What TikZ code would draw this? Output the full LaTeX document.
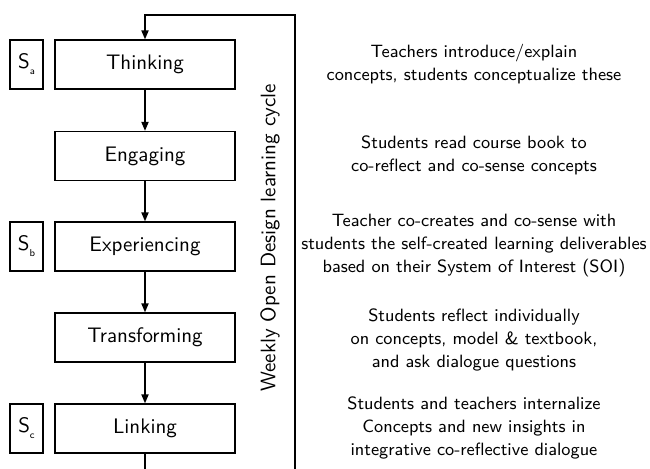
\documentclass[tikz,border=0pt]{standalone}
\usetikzlibrary{arrows.meta}
\begin{document}
\begin{tikzpicture}[x=0.5pt,y=-0.5pt,font=\sffamily,
  stage/.style={draw,line width=0.7pt,minimum width=90pt,minimum height=24.5pt,inner sep=0pt,font=\sffamily\fontsize{10.5}{12}\selectfont},
  sbox/.style={draw,line width=0.7pt,minimum width=16.5pt,minimum height=24.5pt,inner sep=0pt,font=\sffamily\fontsize{10.5}{12}\selectfont},
  desc/.style={align=center,font=\sffamily\fontsize{8.9}{11.5}\selectfont},
  flow/.style={line width=0.7pt,-{Triangle[length=4.5pt,width=3.6pt]}},
  plain/.style={line width=0.7pt}]
\useasboundingbox (0,0) rectangle (650,468);
\node[stage] (think) at (145,64.5) {Thinking};
\node[stage] (eng) at (145,156) {Engaging};
\node[stage] (exp) at (145,246.5) {Experiencing};
\node[stage] (trans) at (145,337.5) {Transforming};
\node[stage] (link) at (145,428.5) {Linking};
\node[sbox] (sa) at (26.5,64.5) {S\raisebox{-3pt}{\tiny a}};
\node[sbox] (sb) at (26.5,246.5) {S\raisebox{-3pt}{\tiny b}};
\node[sbox] (sc) at (26.5,428.5) {S\raisebox{-3pt}{\tiny c}};
\coordinate (top) at (145,15);
\coordinate (tr) at (295,15);
\coordinate (br) at (295,470);
\coordinate (bot) at (145,470);
\draw[flow] (think) -- (eng);
\draw[flow] (eng) -- (exp);
\draw[flow] (exp) -- (trans);
\draw[flow] (trans) -- (link);
\draw[plain] (link) -- (bot);
\draw[flow] (br) -- (tr) -- (top) -- (think);
\node[rotate=90,font=\sffamily\fontsize{10.5}{12}\selectfont] (cyc) at (270,238) {Weekly Open Design learning cycle};
\node[desc] (d1) at (474,64) {Teachers introduce/explain\\concepts, students conceptualize these};
\node[desc] (d2) at (474,155) {Students read course book to\\co-reflect and co-sense concepts};
\node[desc] (d3) at (474,246) {Teacher co-creates and co-sense with\\students the self-created learning deliverables\\based on their System of Interest (SOI)};
\node[desc] (d4) at (474,340) {Students reflect individually\\on concepts, model \& textbook,\\and ask dialogue questions};
\node[desc] (d5) at (474,428) {Students and teachers internalize\\Concepts and new insights in\\integrative co-reflective dialogue};
\end{tikzpicture}
\end{document}
